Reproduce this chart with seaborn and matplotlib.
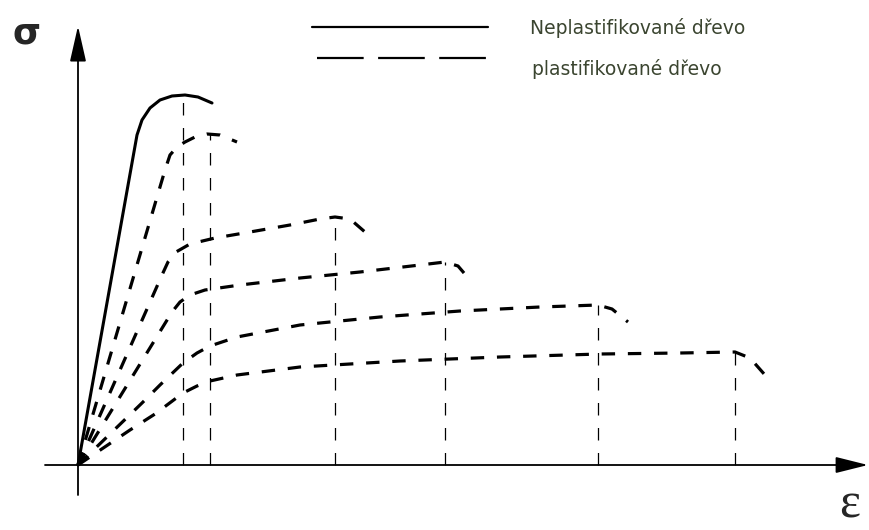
import matplotlib
matplotlib.use("Agg")
import matplotlib.pyplot as plt
import seaborn as sns

# strain / stress points (arbitrary units)
solid_eps = [0, 59, 64, 72, 82, 94, 107, 120, 134]
solid_sig = [0, 330, 345, 357, 365, 369, 370, 368, 362]

dash_eps = [
    [0, 87, 92, 99, 107, 117, 129, 142, 159],
    [0, 84, 90, 98, 112, 137, 172, 212, 242, 257, 272, 287],
    [0, 94, 102, 112, 127, 162, 222, 282, 342, 367, 380, 392],
    [0, 64, 82, 105, 119, 132, 159, 222, 302, 382, 462, 520, 534, 550],
    [0, 52, 77, 105, 119, 132, 159, 222, 322, 422, 522, 602, 657, 672, 687],
]
dash_sig = [
    [0, 295, 310, 318, 323, 328, 331, 330, 323],
    [0, 190, 203, 213, 221, 227, 233, 240, 246, 248, 246, 233],
    [0, 153, 163, 170, 175, 180, 187, 193, 200, 203, 199, 185],
    [0, 62, 80, 102, 112, 119, 128, 140, 148, 154, 158, 160, 156, 143],
    [0, 35, 51, 72, 79, 84, 90, 98, 104, 108, 111, 112, 113, 107, 90],
]

# failure points (vertical drop lines)
fail_eps = [105, 132, 257, 367, 520, 657]
fail_sig = [369, 332, 248, 203, 160, 113]

legend_labels = ["Neplastifikované dřevo", "plastifikované dřevo"]

sns.set_style("white")
fig = plt.figure(figsize=(8.69, 5.30), dpi=100)
ax = fig.add_axes([0, 0, 1, 1])
ax.set_xlim(-78, 791)
ax.set_ylim(-65, 465)
ax.axis("off")

# curves
sns.lineplot(x=solid_eps, y=solid_sig, sort=False, estimator=None, ax=ax,
             color="black", lw=2.2, solid_capstyle="round")
for e, s in zip(dash_eps, dash_sig):
    sns.lineplot(x=e, y=s, sort=False, estimator=None, ax=ax, color="black",
                 lw=2.3, linestyle=(0, (4.2, 4.0)), dash_capstyle="butt")

# vertical dashed lines at failure
for e, s in zip(fail_eps, fail_sig):
    ax.plot([e, e], [0, s], color="black", lw=0.9, linestyle=(0, (10, 10)))

# axes with arrows
ax.annotate("", xy=(0, 439), xytext=(0, -30),
            arrowprops=dict(arrowstyle="-|>,head_length=2.2,head_width=0.5",
                            color="black", lw=1.3, shrinkA=0, shrinkB=0))
ax.annotate("", xy=(790, 0), xytext=(-33, 0),
            arrowprops=dict(arrowstyle="-|>,head_length=2.0,head_width=0.5",
                            color="black", lw=1.3, shrinkA=0, shrinkB=0))
ax.text(-51, 432, "σ", fontsize=26, fontweight="bold", family="DejaVu Sans",
        ha="center", va="center")
ax.text(772, -40, "ε", fontsize=36, family="Liberation Serif",
        ha="center", va="center")

# legend
ax.plot([234, 410], [438, 438], color="black", lw=1.6)
ax.plot([239, 409], [407, 407], color="black", lw=1.6, linestyle=(0, (21, 6.5)))
ax.text(452, 437, legend_labels[0], fontsize=13.5, family="DejaVu Sans",
        color="#3b4530", ha="left", va="center")
ax.text(454, 396, legend_labels[1], fontsize=13.5, family="DejaVu Sans",
        color="#3b4530", ha="left", va="center")

fig.savefig("out.png", dpi=100)
